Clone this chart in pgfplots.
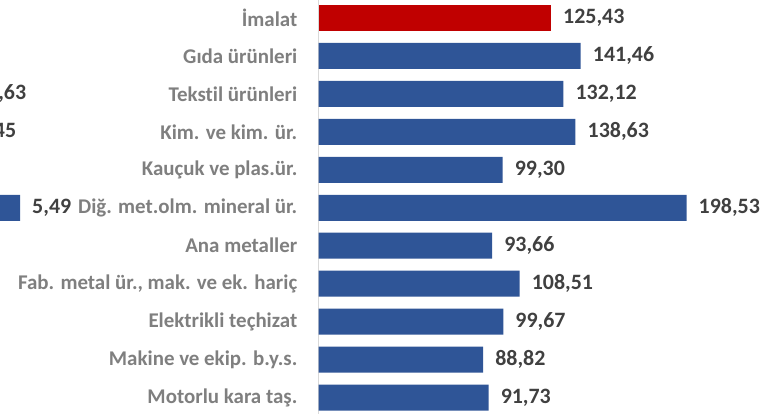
\documentclass[border=0pt]{standalone}
\usepackage{pgfplots}
\pgfplotsset{compat=1.18}
\usepackage{fontspec}
\setmainfont[Ligatures={NoCommon}]{Carlito}
\definecolor{barred}{HTML}{C00000}
\definecolor{barblue}{HTML}{2F5597}
\definecolor{valgray}{HTML}{404040}
\definecolor{catgray}{HTML}{7F7F7F}
\definecolor{axgray}{HTML}{D9D9D9}
\newcommand{\catfont}{\bfseries\fontsize{21}{25}\selectfont}
\newcommand{\valfont}{\bfseries\fontsize{22}{26}\selectfont}
\begin{document}
\begin{tikzpicture}
\useasboundingbox (0,0) rectangle (774bp,414bp);
\clip (0,0) rectangle (774bp,414bp);
% fragment of the neighbouring chart, cut by the left edge
\begin{axis}[
  at={(-64.6bp,-2.475bp)}, anchor=south west,
  scale only axis, width=99bp, height=417.45bp,
  xmin=-2, xmax=6.76, ymin=-0.5, ymax=10.5, y dir=reverse,
  hide axis,
  xbar, bar width=26bp, bar shift=0pt,
  nodes near coords, point meta=explicit symbolic,
  nodes near coords style={font=\valfont, text=valgray, inner sep=0pt, anchor=west, xshift=12bp},
  clip=false,
]
\addplot[fill=barblue, draw=none] coordinates {(1.50,2) [1,63] (0.62,3) [0,45] (5.49,5) [5,49]};
\end{axis}
% main chart
\begin{axis}[
  at={(318.5bp,-2.475bp)}, anchor=south west,
  scale only axis, width=454bp, height=417.45bp,
  xmin=0, xmax=244.9, ymin=-0.5, ymax=10.5, y dir=reverse,
  axis x line=none, axis y line*=left,
  y axis line style={draw=axgray, line width=1.5bp},
  xtick=\empty,
  ytick={0,...,10},
  yticklabels={İmalat, Gıda ürünleri, Tekstil ürünleri, Kim. ve kim. ür., Kauçuk ve plas.ür., Diğ. met.olm. mineral ür., Ana metaller, {Fab. metal ür., mak. ve ek. hariç}, Elektrikli teçhizat, Makine ve ekip. b.y.s., Motorlu kara taş.},
  major tick length=0pt,
  yticklabel style={font=\catfont, text=catgray, inner sep=0pt, xshift=-21bp},
  xbar, bar width=26bp, bar shift=0pt,
  nodes near coords, point meta=explicit symbolic,
  nodes near coords style={font=\valfont, text=valgray, inner sep=0pt, anchor=west, xshift=12bp},
  clip=false,
]
\addplot[fill=barred, draw=none] coordinates {(125.43,0) [125,43]};
\addplot[fill=barblue, draw=none] coordinates {
(141.46,1) [141,46]
(132.12,2) [132,12]
(138.63,3) [138,63]
(99.30,4) [99,30]
(198.53,5) [198,53]
(93.66,6) [93,66]
(108.51,7) [108,51]
(99.67,8) [99,67]
(88.82,9) [88,82]
(91.73,10) [91,73]
};
\end{axis}
\end{tikzpicture}
\end{document}
